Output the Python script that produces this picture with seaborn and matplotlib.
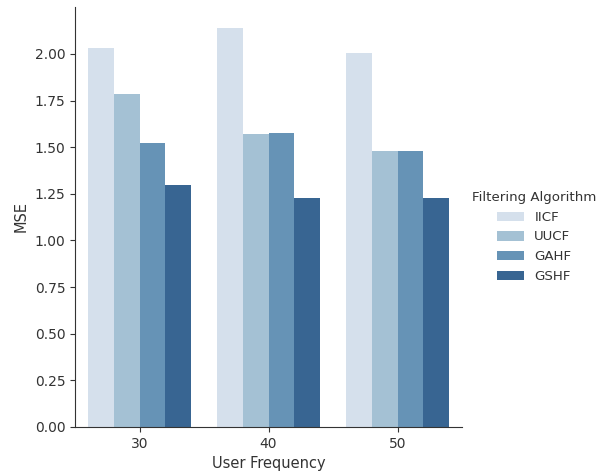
import matplotlib
matplotlib.use("Agg")
import matplotlib.pyplot as plt
import seaborn as sns
import pandas as pd

# MSE by user frequency for each filtering algorithm
frequencies = [30, 40, 50]
algorithms = ["IICF", "UUCF", "GAHF", "GSHF"]
mse_iicf = [2.032, 2.142, 2.003]
mse_uucf = [1.786, 1.571, 1.480]
mse_gahf = [1.523, 1.579, 1.480]
mse_gshf = [1.298, 1.228, 1.229]

# muted blue ramp, light to dark
bar_colors = ["#d5e0ec", "#a4c1d4", "#6693b6", "#386592"]

rows = []
for alg, vals in zip(algorithms, [mse_iicf, mse_uucf, mse_gahf, mse_gshf]):
    for f, v in zip(frequencies, vals):
        rows.append({"User Frequency": f, "MSE": v, "Filtering Algorithm": alg})
df = pd.DataFrame(rows)

plt.rcParams["font.family"] = ["DejaVu Sans"]
plt.rcParams["font.size"] = 10

fig = plt.figure(figsize=(5.97, 4.74), dpi=100)
ax = fig.add_axes([75 / 597, 47 / 474, 387 / 597, 420 / 474])

sns.barplot(data=df, x="User Frequency", y="MSE", hue="Filtering Algorithm",
            hue_order=algorithms, palette=bar_colors, saturation=1,
            errorbar=None, ax=ax, legend=True)

ax.set_ylim(0, 2.252)
ax.set_xlim(-0.5, 2.5)
ax.set_yticks([0, 0.25, 0.5, 0.75, 1.0, 1.25, 1.5, 1.75, 2.0])
ax.set_yticklabels([f"{t:.2f}" for t in ax.get_yticks()])
ax.tick_params(labelsize=10, colors="#333333", labelcolor="#333333")
ax.xaxis.label.set_color("#333333")
ax.yaxis.label.set_color("#333333")
ax.xaxis.label.set_size(10.5)
ax.yaxis.label.set_size(10.5)
sns.despine(ax=ax)
for s in ("left", "bottom"):
    ax.spines[s].set_color("#333333")

handles, labels = ax.get_legend_handles_labels()
ax.get_legend().remove()
leg = fig.legend(handles, labels, title="Filtering Algorithm",
                 loc="center left", bbox_to_anchor=(460 / 597, 1 - 237 / 474),
                 frameon=False, fontsize=9.6, title_fontsize=9.6,
                 handlelength=2.0, handletextpad=0.8, labelspacing=0.5)
for t in leg.get_texts():
    t.set_color("#333333")
leg.get_title().set_color("#333333")

fig.savefig("out.png", dpi=100)
